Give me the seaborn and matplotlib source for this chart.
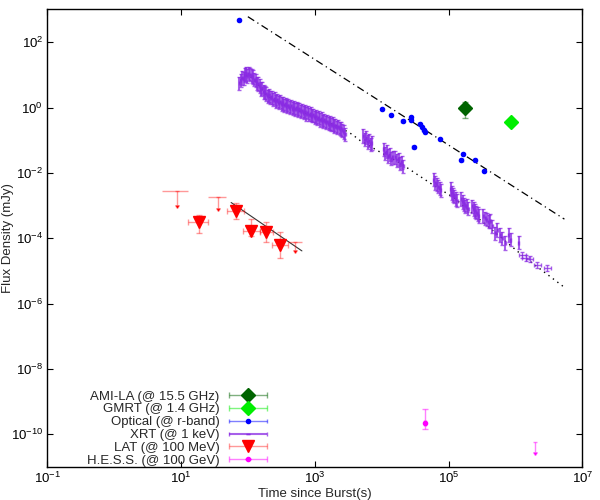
import matplotlib
matplotlib.use("Agg")
import matplotlib.pyplot as plt
import numpy as np
import seaborn as sns
from matplotlib.container import ErrorbarContainer
from matplotlib.legend_handler import HandlerErrorbar
from matplotlib.ticker import FixedLocator, NullLocator, LogFormatterSciNotation

# --- Data: time since burst (s), flux density (mJy) ---
ami_t = [1.73e5]
ami_f = [0.99]
ami_lo = [0.47]
ami_hi = [1.45]

gmrt_t = [8.65e5]
gmrt_f = [0.355]

opt_t = [73.8, 1.02e4, 1.39e4, 2.05e4, 2.73e4, 2.73e4, 2.99e4, 3.68e4, 3.99e4,
         4.22e4, 4.48e4, 7.43e4, 1.55e5, 1.64e5, 2.5e5, 3.38e5]
opt_f = [478, 0.887, 0.594, 0.389, 0.505, 0.418, 0.061, 0.308, 0.255,
         0.207, 0.179, 0.107, 0.0255, 0.039, 0.0255, 0.0117]

# XRT: dense early light curve
xrt_band_t = [74, 78, 82, 86, 90, 94, 98, 103, 108, 113, 118, 124, 130, 136, 142,
              149, 156, 163, 171, 179, 188, 197, 206, 216, 227, 238, 250, 262,
              275, 288, 302, 317, 332, 348, 365, 383, 402, 421, 442, 463, 486,
              510, 535, 561, 588, 617, 647, 679, 712, 747, 783, 821, 861, 903,
              947, 993, 1042, 1093, 1146, 1202, 1261, 1322, 1387, 1455, 1526,
              1600, 1678, 1760, 1846, 1936, 2031, 2130, 2234, 2343, 2457, 2577,
              2703, 2835]
xrt_band_f = [5.5, 6.8, 8.0, 7.6, 9.8, 10.5, 9.3, 11.0, 10.2, 9.3, 8.6, 7.2, 6.8,
              5.5, 5.3, 4.6, 3.7, 3.9, 3.0, 2.9, 2.6, 2.2, 2.35, 2.0, 2.05, 1.75,
              1.85, 1.55, 1.65, 1.40, 1.50, 1.28, 1.35, 1.18, 1.25, 1.08, 1.15,
              1.00, 1.08, 0.93, 1.00, 0.88, 0.94, 0.84, 0.88, 0.76, 0.80, 0.70,
              0.74, 0.64, 0.69, 0.60, 0.64, 0.57, 0.58, 0.50, 0.53, 0.46, 0.49,
              0.42, 0.45, 0.38, 0.41, 0.35, 0.37, 0.32, 0.34, 0.30, 0.31, 0.27,
              0.28, 0.25, 0.26, 0.23, 0.22, 0.20, 0.18, 0.15]

# XRT: later orbits
xrt_orbit_t = [5300, 5600, 5900, 6200, 6500, 6800, 7100,
               10700, 11300, 11900, 12500, 13200, 13900, 14600,
               16000, 16900, 17800, 18800, 19900, 21000,
               60000, 63000, 66000, 69500, 73000, 76500,
               107000, 112000, 117000, 122000, 128000, 133000,
               155000, 162000, 170000, 178000, 186000, 195000,
               225000, 236000, 247000, 258000, 270000, 280000,
               330000, 350000, 372000, 395000, 418000,
               4.46e5, 5.0e5, 5.3e5, 5.93e5, 6.29e5, 7.0e5, 7.9e5, 8.4e5, 1.11e6]
xrt_orbit_f = [0.135, 0.105, 0.12, 0.088, 0.098, 0.075, 0.082,
               0.052, 0.040, 0.045, 0.033, 0.036, 0.027, 0.030,
               0.030, 0.024, 0.026, 0.019, 0.021, 0.016,
               0.0062, 0.0049, 0.0045, 0.0038, 0.0034, 0.0029,
               0.0032, 0.0024, 0.0021, 0.0019, 0.0016, 0.0014,
               0.0016, 0.0013, 0.0011, 0.00095, 0.0010, 0.00080,
               9.5e-4, 7.8e-4, 6.9e-4, 6.0e-4, 5.5e-4, 4.8e-4,
               4.8e-4, 4.1e-4, 3.7e-4, 3.2e-4, 3.4e-4,
               2.3e-4, 1.43e-4, 1.8e-4, 1.27e-4, 1.0e-4, 7.1e-5, 1.27e-4, 9e-5, 7.4e-5]

xrt_late_t = [1.25e6, 1.41e6, 1.63e6, 2.1e6, 2.96e6]
xrt_late_f = [3.1e-5, 2.46e-5, 2.3e-5, 1.54e-5, 1.22e-5]

# LAT detections (with time ranges and flux ranges)
lat_t = [18.8, 66.5, 112, 187, 303]
lat_t_lo = [12.6, 48.3, 85.6, 149, 232]
lat_t_hi = [25.6, 87.7, 149, 240, 403]
lat_f = [3.1e-4, 6.6e-4, 1.68e-4, 1.57e-4, 6.3e-5]
lat_f_lo = [1.49e-4, 3.9e-4, 1.18e-4, 7.9e-5, 2.46e-5]
lat_f_hi = [5.1e-4, 1.18e-3, 3.84e-4, 3.24e-4, 1.6e-4]

# LAT upper limits
lat_ul_t = [8.8, 36.1, 508]
lat_ul_t_lo = [5.15, 25.6, 403]
lat_ul_t_hi = [12.6, 47.2, 640]
lat_ul_f = [2.75e-3, 1.8e-3, 7.8e-5]
lat_ul_end = [1.05e-3, 8.3e-4, 4.4e-5]

# H.E.S.S.
hess_t = [4.4e4]
hess_f = [2.2e-10]
hess_lo = [1.5e-10]
hess_hi = [5.9e-10]
hess_ul_t = [1.95e6]
hess_ul_f = [5.9e-11]
hess_ul_end = [2.8e-11]

# model curves
opt_fit_t = [99.6, 5.37e6]
opt_fit_f = [603, 3.84e-4]
xrt_fit_t = [80, 91, 104, 117, 136, 152, 185, 232, 292, 390, 569, 904, 1429,
             2259, 3581, 4764, 9506, 18923, 53211, 118577, 1.324e6, 5.56e6]
xrt_fit_f = [7.33, 9.25, 9.73, 7.66, 5.77, 4.06, 2.55, 1.79, 1.35, 1.07, 0.80,
             0.553, 0.371, 0.261, 0.152, 0.0973, 0.0430, 0.0198, 0.00484,
             0.00176, 2.75e-5, 2.98e-6]
lat_fit_t = [56, 640]
lat_fit_f = [1.24e-3, 4.1e-5]

x_ticks = [1e-1, 1e1, 1e3, 1e5, 1e7]
y_ticks = [1e-10, 1e-8, 1e-6, 1e-4, 1e-2, 1e0, 1e2]

# --- Style ---
sns.set_style("ticks")
plt.rcParams["font.family"] = ["Liberation Sans", "DejaVu Sans"]
plt.rcParams["font.size"] = 9.5

fig = plt.figure(figsize=(6, 5), dpi=100)
ax = fig.add_axes([0.0788, 0.066, 0.892, 0.915])
ax.set_xscale("log")
ax.set_yscale("log")


def frac_err(f, k):
    f = np.asarray(f)
    return [f - f / k, f * (k - 1)]


def range_err(v, lo, hi):
    v = np.asarray(v)
    return [v - np.asarray(lo), np.asarray(hi) - v]


# fit lines
sns.lineplot(x=opt_fit_t, y=opt_fit_f, ax=ax, color="black", lw=0.9,
             linestyle=(0, (6, 3, 1, 3)), legend=False)
sns.lineplot(x=xrt_fit_t, y=xrt_fit_f, ax=ax, color="black", lw=1.0,
             linestyle=(0, (1, 3)), legend=False)
sns.lineplot(x=lat_fit_t, y=lat_fit_f, ax=ax, color="#333333", lw=0.8,
             legend=False)

# radio
h_ami = ax.errorbar(ami_t, ami_f, xerr=frac_err(ami_t, 1.15),
                    yerr=range_err(ami_f, ami_lo, ami_hi), fmt="D",
                    color="#006400", ms=7, ecolor=(0, 0.39, 0, 0.5),
                    elinewidth=1, capsize=2, label="AMI-LA (@ 15.5 GHz)")
h_gmrt = ax.errorbar(gmrt_t, gmrt_f, xerr=frac_err(gmrt_t, 1.05),
                     yerr=frac_err(gmrt_f, 1.05), fmt="D", color="#00ee00",
                     ms=7, ecolor=(0, 0.93, 0, 0.5), elinewidth=1, capsize=2,
                     label="GMRT (@ 1.4 GHz)")

# optical
h_opt = ax.errorbar(opt_t, opt_f, xerr=frac_err(opt_t, 1.04),
                    yerr=frac_err(opt_f, 1.04), fmt="o", color="#0000ff",
                    ms=3, ecolor=(0, 0, 1, 0.5), elinewidth=1, capsize=1.5,
                    label="Optical (@ r-band)")

# XRT
xrt_col = (0.54, 0.17, 0.89, 0.75)
h_xrt = ax.errorbar(xrt_band_t, xrt_band_f, xerr=frac_err(xrt_band_t, 1.02),
                    yerr=frac_err(xrt_band_f, 1.6), fmt="none", ecolor=xrt_col,
                    elinewidth=1.5, capsize=1.5, label="XRT (@ 1 keV)")
ax.errorbar(xrt_orbit_t, xrt_orbit_f, xerr=frac_err(xrt_orbit_t, 1.02),
            yerr=frac_err(xrt_orbit_f, 1.6), fmt="none", ecolor=xrt_col,
            elinewidth=1.5, capsize=1.5)
ax.errorbar(xrt_late_t, xrt_late_f, xerr=frac_err(xrt_late_t, 1.13),
            yerr=frac_err(xrt_late_f, 1.25), fmt="none", ecolor=xrt_col,
            elinewidth=1, capsize=1.5)

# LAT
lat_ecol = (1, 0, 0, 0.4)
h_lat = ax.errorbar(lat_t, lat_f, xerr=range_err(lat_t, lat_t_lo, lat_t_hi),
                    yerr=range_err(lat_f, lat_f_lo, lat_f_hi), fmt="v",
                    color="#ff0000", ms=8, ecolor=lat_ecol, elinewidth=1,
                    capsize=2, label="LAT (@ 100 MeV)")
ax.errorbar(lat_ul_t, lat_ul_f, xerr=range_err(lat_ul_t, lat_ul_t_lo, lat_ul_t_hi),
            fmt="none", ecolor=lat_ecol, elinewidth=1, capsize=0)
ul = ax.errorbar(lat_ul_t, lat_ul_f,
                 yerr=np.asarray(lat_ul_f) - np.asarray(lat_ul_end),
                 uplims=True, fmt="none", ecolor=lat_ecol, elinewidth=1,
                 capsize=1.6)
for cl in ul[1]:
    cl.set_color("#ff0000")

# H.E.S.S.
hess_ecol = (1, 0, 1, 0.5)
h_hess = ax.errorbar(hess_t, hess_f, xerr=frac_err(hess_t, 1.04),
                     yerr=range_err(hess_f, hess_lo, hess_hi), fmt="o",
                     color="#ff00ff", ms=3, ecolor=hess_ecol, elinewidth=1,
                     capsize=2, label="H.E.S.S. (@ 100 GeV)")
hul = ax.errorbar(hess_ul_t, hess_ul_f,
                  yerr=np.asarray(hess_ul_f) - np.asarray(hess_ul_end),
                  uplims=True, fmt="none", ecolor=hess_ecol, elinewidth=1,
                  capsize=1.4)
for cl in hul[1]:
    cl.set_color("#ff00ff")

# --- Axes ---
ax.set_xlim(1e-1, 1e7)
ax.set_ylim(1e-11, 1e3)
ax.xaxis.set_major_locator(FixedLocator(x_ticks))
ax.yaxis.set_major_locator(FixedLocator(y_ticks))
ax.xaxis.set_major_formatter(LogFormatterSciNotation())
ax.yaxis.set_major_formatter(LogFormatterSciNotation())
ax.xaxis.set_minor_locator(NullLocator())
ax.yaxis.set_minor_locator(NullLocator())
ax.tick_params(direction="in", length=4, width=0.8, top=True, right=True,
               labelsize=9.5, colors="black", pad=3)
for sp in ax.spines.values():
    sp.set_color("black")
    sp.set_linewidth(1)
ax.set_xlabel("Time since Burst(s)", fontsize=9.5, labelpad=1)
ax.set_ylabel("Flux Density (mJy)", fontsize=9.5)
ax.yaxis.set_label_coords(-0.062, 0.5)

handles = [h_ami, h_gmrt, h_opt, h_xrt, h_lat, h_hess]
ax.legend(handles=handles, labels=[h.get_label() for h in handles],
          loc="lower right", bbox_to_anchor=(0.445, 0.066),
          bbox_transform=fig.transFigure, frameon=False, markerfirst=False,
          handlelength=2.9, handletextpad=0.7, labelspacing=0.05,
          borderpad=0, borderaxespad=0, fontsize=9.5,
          handler_map={ErrorbarContainer: HandlerErrorbar(xerr_size=1.45,
                                                          yerr_size=0.0)})

fig.savefig("out.png", dpi=100)
